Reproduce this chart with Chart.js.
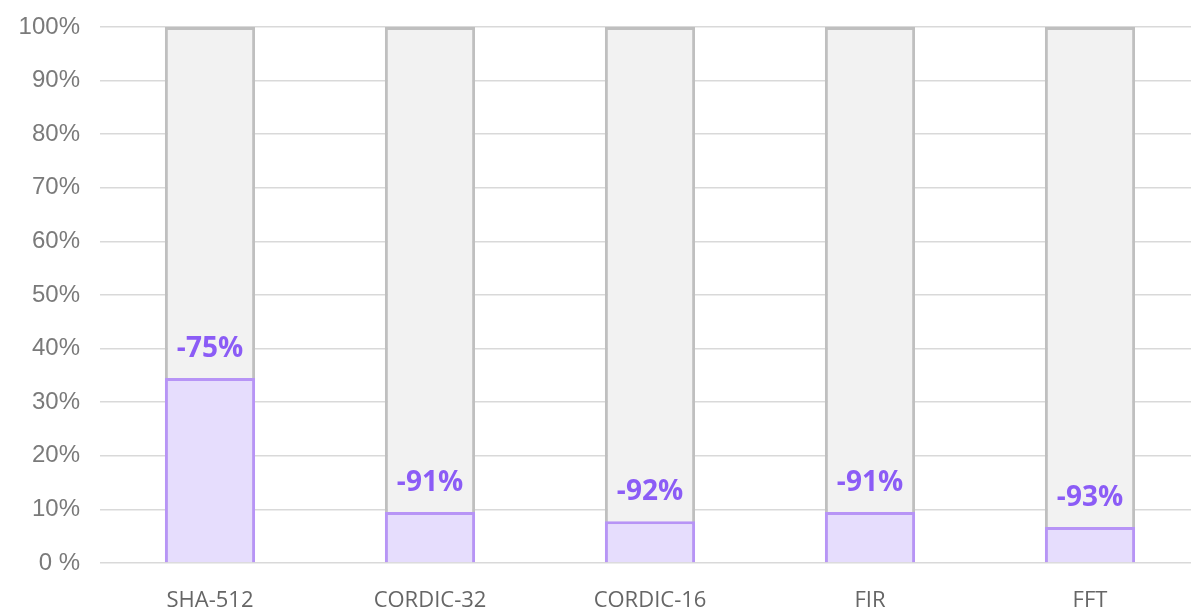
<!DOCTYPE html>
<html>
<head>
<meta charset="utf-8">
<script src="https://cdn.jsdelivr.net/npm/chart.js@4"></script>
<style>
  html, body { margin: 0; padding: 0; background: #fff; overflow: hidden; }
  #wrap { width: 1200px; height: 608px; position: relative; }
</style>
</head>
<body>
<div id="wrap"><canvas id="grafico"></canvas></div>
<script>
// dados
const categorias = ['SHA-512', 'CORDIC-32', 'CORDIC-16', 'FIR', 'FFT'];
const valoresNovo = [34.5, 9.5, 7.8, 9.5, 6.7];
const valoresBase = [100, 100, 100, 100, 100];
const rotulosReducao = ['-75%', '-91%', '-92%', '-91%', '-93%'];

// rotulos acima das barras roxas
const rotulosPlugin = {
  id: 'rotulos',
  afterDatasetsDraw(chart) {
    const ctx = chart.ctx;
    const meta = chart.getDatasetMeta(0);
    ctx.save();
    ctx.fillStyle = '#8b5cf6';
    ctx.font = 'bold 28px "Open Sans", sans-serif';
    ctx.textAlign = 'center';
    ctx.textBaseline = 'middle';
    meta.data.forEach((bar, i) => {
      ctx.fillText(rotulosReducao[i], bar.x, bar.y - 29);
    });
    ctx.restore();
  }
};

const ctx = document.getElementById('grafico').getContext('2d');
new Chart(ctx, {
  type: 'bar',
  data: {
    labels: categorias,
    datasets: [
      {
        label: 'Novo',
        data: valoresNovo,
        backgroundColor: '#e6ddfd',
        borderColor: '#b794f6',
        borderWidth: 3,
        grouped: false,
        barPercentage: 0.41,
        categoryPercentage: 1
      },
      {
        label: 'Base',
        data: valoresBase,
        backgroundColor: '#f2f2f2',
        borderColor: '#bfbfbf',
        borderWidth: 3,
        grouped: false,
        barPercentage: 0.41,
        categoryPercentage: 1
      }
    ]
  },
  options: {
    responsive: true,
    maintainAspectRatio: false,
    animation: false,
    layout: { padding: { top: 27, right: 0, left: 0, bottom: 0 } },
    plugins: {
      legend: { display: false },
      tooltip: { enabled: false }
    },
    scales: {
      x: {
        grid: { display: false },
        border: { display: false },
        ticks: {
          color: '#666666',
          padding: 17,
          font: { family: '"Open Sans", sans-serif', size: 22 }
        },
        afterFit(scale) { scale.height = 45; }
      },
      y: {
        min: 0,
        max: 100,
        border: { display: false },
        grid: { color: '#d9d9d9', lineWidth: 1.5, drawTicks: false },
        ticks: {
          stepSize: 10,
          color: '#7a7a7a',
          padding: 20,
          font: { family: '"Liberation Sans", Arial, sans-serif', size: 24 },
          callback: v => v === 0 ? '0 %' : v + '%'
        },
        afterFit(scale) {
          scale.width = 100;
          scale.paddingTop = 0;
          scale.paddingBottom = 0;
        }
      }
    }
  },
  plugins: [rotulosPlugin]
});
</script>
</body>
</html>
